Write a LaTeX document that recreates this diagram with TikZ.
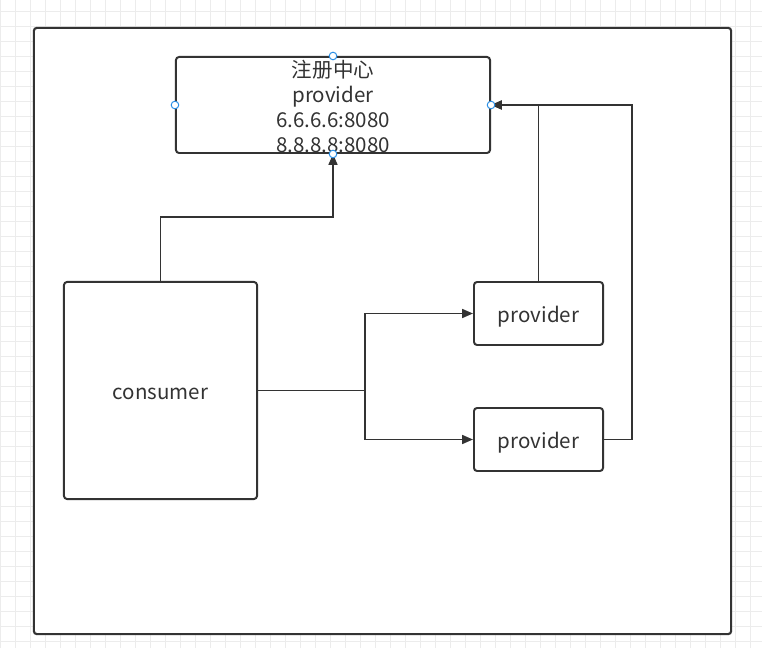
\documentclass[tikz,border=0pt]{standalone}
\usepackage{fontspec}
\setmainfont{Noto Sans CJK SC}
\usetikzlibrary{arrows.meta}
\definecolor{dline}{RGB}{51,51,51}
\definecolor{gridgrey}{RGB}{236,236,236}
\definecolor{handle}{RGB}{41,142,230}
\newcommand\dn[2][2.2pt]{\raisebox{-#1}[\height][\depth]{#2}}
\tikzset{
  frame/.style={draw=dline, line width=1.5pt, rounded corners=2pt, fill=white,
                inner sep=0pt},
  box/.style={draw=dline, line width=1.4pt, rounded corners=2.2pt, fill=white,
              align=center, inner sep=0pt, font=\fontsize{14.6}{17.8}\selectfont,
              text=dline},
  arr/.style={-{Triangle[length=2.7mm, width=2.2mm]}, line width=1.4pt, draw=dline},
  wire/.style={line width=1.4pt, draw=dline},
  hdl/.style={draw=handle, fill=white, line width=0.7pt}
}
\begin{document}
\begin{tikzpicture}[x=0.025cm, y=-0.025cm]
  \useasboundingbox (0,0) rectangle (762,648);
  % background grid
  \foreach \gx in {0,...,50} \draw[gridgrey, line width=0.4pt] (15*\gx+0.7,0) -- (15*\gx+0.7,648);
  \foreach \gy in {0,...,42} \draw[gridgrey, line width=0.4pt] (0,15*\gy+11) -- (762,15*\gy+11);
  % outer frame
  \node[frame, minimum width=17.425cm, minimum height=15.15cm] (page) at (382.5,331) {};
  % boxes
  \node[box, minimum width=7.85cm, minimum height=2.4cm] (reg) at (333,105)
       {\dn[0.9pt]{注册中心}\\\dn[0.9pt]{provider}\\\dn[0.9pt]{6.6.6.6:8080}\\\dn[0.9pt]{8.8.8.8:8080}};
  \node[box, minimum width=4.825cm, minimum height=5.425cm] (cons) at (160.5,390.5) {\dn{consumer}};
  \node[box, minimum width=3.225cm, minimum height=1.575cm] (p1) at (538.5,313.5) {\dn{provider}};
  \node[box, minimum width=3.225cm, minimum height=1.575cm] (p2) at (538.5,439.5) {\dn{provider}};
  % bends
  \coordinate (up) at (160.5,217);
  \coordinate (split) at (365,390.5);
  \coordinate (back) at (632,439.5);

  \draw[arr] (cons.north) -- (up) -| (reg.south);
  \draw[wire] (cons.east) -- (split);
  \draw[arr] (split) |- (p1.west);
  \draw[arr] (split) |- (p2.west);
  \draw[arr] (p1.north) |- (reg.east);
  \draw[arr] (p2.east) -- (back) |- (reg.east);
  % handles
  \foreach \a in {north,south,east,west} \draw[hdl] (reg.\a) circle (2.7pt);
\end{tikzpicture}
\end{document}
